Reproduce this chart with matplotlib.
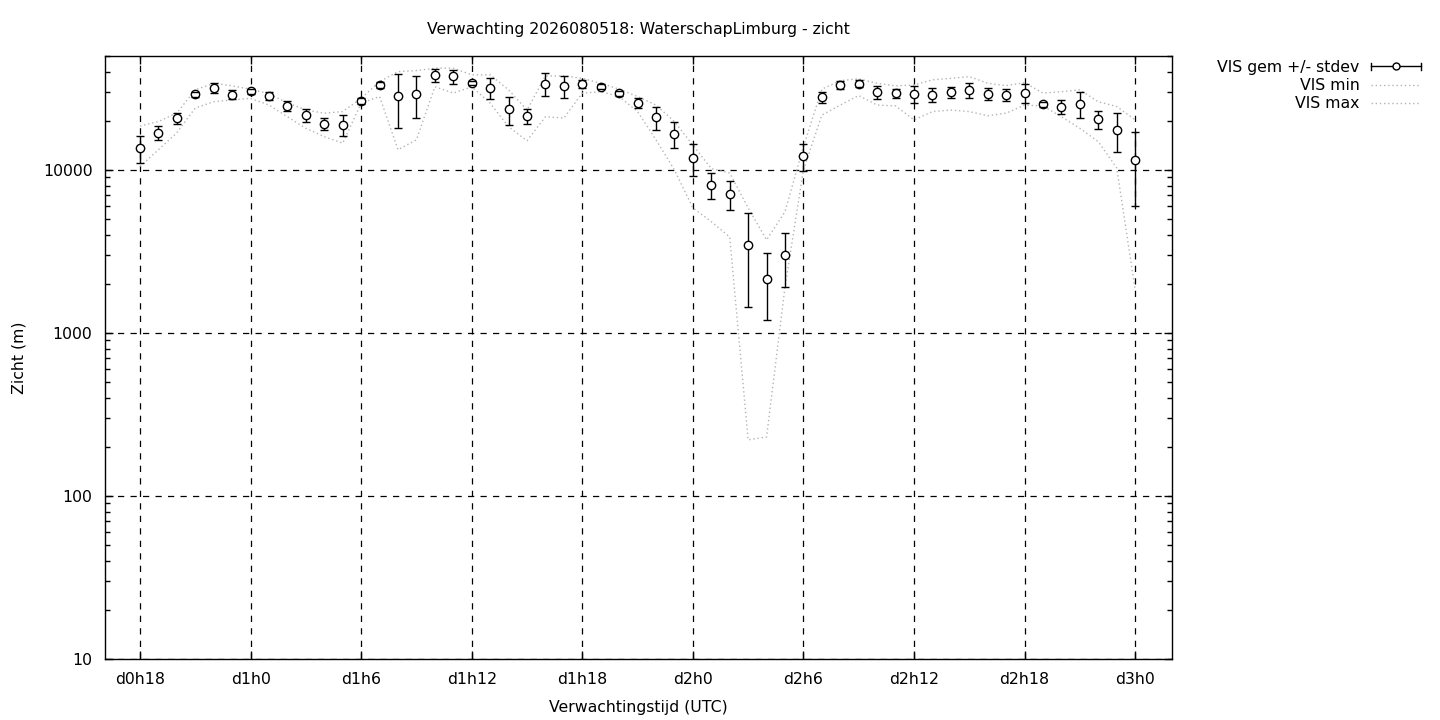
import numpy as np
import matplotlib
matplotlib.use("Agg")
import matplotlib.pyplot as plt
from matplotlib.lines import Line2D
from matplotlib.legend_handler import HandlerBase
from matplotlib.ticker import FixedLocator, FuncFormatter, LogLocator, NullFormatter

# forecast hours (relative to d0h0), one value per hour
hours = list(range(18, 73))

vis_mean = [13600, 16900, 20700, 29200, 32000, 29000, 30400, 28400, 24700, 21600,
            19200, 18900, 26500, 33000, 28400, 29200, 38000, 37600, 34000, 31900,
            23500, 21400, 33900, 32700, 33700, 32400, 29500, 25800, 21100, 16600,
            11800, 8100, 7100, 3450, 2140, 3000, 12200, 27900, 33300, 33800,
            29900, 29500, 29400, 28900, 29900, 30900, 29300, 28900, 29800, 25300,
            24400, 25400, 20400, 17600, 11500]

vis_std = [2600, 1600, 1600, 1000, 2200, 1800, 1100, 1500, 1600, 2000,
           1600, 2700, 1100, 1400, 10200, 8500, 3400, 3700, 900, 4700,
           4700, 2200, 5400, 5100, 2000, 1100, 1000, 1900, 3400, 3000,
           2600, 1500, 1450, 2000, 940, 1090, 2300, 2200, 2000, 1700,
           2600, 1750, 3500, 2700, 2200, 3100, 2400, 2500, 4000, 900,
           2400, 4700, 2600, 4700, 5500]

vis_min = [10500, 13300, 16900, 24000, 26200, 26900, 27500, 25000, 21200, 18000,
           16000, 14600, 25700, 28200, 13300, 15300, 32400, 29600, 32400, 25700,
           18400, 15100, 21200, 20800, 29600, 30200, 28200, 22800, 15300, 10000,
           5850, 4820, 3880, 221, 230, 1915, 10000, 21700, 25000, 28600,
           25000, 24700, 20300, 22800, 23300, 22800, 21500, 22300, 25000, 24700,
           21200, 18000, 14900, 10300, 1840]

vis_max = [18600, 19800, 22400, 31000, 34000, 32800, 31300, 29300, 25800, 23300,
           22300, 22800, 27500, 34800, 40100, 40700, 42100, 42100, 38300, 38300,
           31000, 23300, 37700, 37700, 36500, 34000, 31300, 28200, 25000, 19800,
           14200, 10200, 9580, 5850, 3720, 5550, 13900, 31300, 35300, 36200,
           34000, 32800, 33200, 35700, 36500, 37400, 34000, 32900, 34300, 29600,
           30200, 31000, 26200, 24500, 20300]

tick_hours = [18, 24, 30, 36, 42, 48, 54, 60, 66, 72]
tick_labels = ["d%dh%d" % (h // 24, h % 24) for h in tick_hours]


class HorizErrHandler(HandlerBase):
    # gnuplot style key sample: horizontal bar with end caps and a circle
    def create_artists(self, legend, orig_handle, xdescent, ydescent,
                       width, height, fontsize, trans):
        y = (height - ydescent) / 2
        x0, x1 = -xdescent, width - xdescent
        cap = height * 0.35
        parts = [
            Line2D([x0, x1], [y, y], color="black", lw=1),
            Line2D([x0, x0], [y - cap, y + cap], color="black", lw=1),
            Line2D([x1, x1], [y - cap, y + cap], color="black", lw=1),
            Line2D([(x0 + x1) / 2], [y], marker="o", ms=5, mfc="white",
                   mec="black", mew=1, ls="none"),
        ]
        for p in parts:
            p.set_transform(trans)
        return parts


plt.rcParams["font.family"] = ["DejaVu Sans"]
fig = plt.figure(figsize=(14.4, 7.2), dpi=100)
ax = fig.add_axes([105 / 1440, 1 - 659 / 720, (1172 - 105) / 1440, (659 - 56) / 720])

dots = dict(color="#b4b4b4", lw=1, ls=(0, (1, 2)), zorder=2)
ln_min, = ax.plot(hours, vis_min, label="VIS min", **dots)
ln_max, = ax.plot(hours, vis_max, label="VIS max", **dots)
eb = ax.errorbar(hours, vis_mean, yerr=vis_std, fmt="o", color="black",
                 ms=6, mfc="white", mec="black", mew=1, elinewidth=1,
                 capsize=2.6, capthick=1, zorder=4, label="VIS gem +/- stdev")
# caps on top of the open circles, like gnuplot does
eb[0].set_zorder(5)
for cap in eb[1]:
    cap.set_zorder(6)

ax.set_yscale("log")
ax.set_ylim(10, 50000)
ax.set_xlim(16.1, 74.0)

ax.xaxis.set_major_locator(FixedLocator(tick_hours))
ax.set_xticklabels(tick_labels)
ax.yaxis.set_major_locator(FixedLocator([10, 100, 1000, 10000]))
ax.yaxis.set_major_formatter(FuncFormatter(lambda v, p: "%d" % v))
ax.yaxis.set_minor_locator(LogLocator(base=10, subs=np.arange(2, 10), numticks=20))
ax.yaxis.set_minor_formatter(NullFormatter())

ax.tick_params(which="both", direction="in", top=True, right=True, labelsize=11.3)
ax.tick_params(which="major", length=6, width=1, pad=9)
ax.tick_params(which="minor", length=3.5, width=1)
ax.tick_params(axis="x", which="minor", bottom=False, top=False)

ax.grid(True, which="major", color="black", lw=0.9, ls=(0, (5, 5)))
for s in ax.spines.values():
    s.set_linewidth(1)

ax.set_title("Verwachting 2026080518: WaterschapLimburg - zicht", fontsize=11.3, pad=16)
ax.set_xlabel("Verwachtingstijd (UTC)", fontsize=11.3, labelpad=9.5)
ax.set_ylabel("Zicht (m)", fontsize=11.3, labelpad=12)

fig.legend([eb, ln_min, ln_max], ["VIS gem +/- stdev", "VIS min", "VIS max"],
           handler_map={eb: HorizErrHandler()}, loc="upper right",
           bbox_to_anchor=(1432 / 1440, 1 - 49 / 720), frameon=False,
           markerfirst=False, fontsize=11.3, handlelength=3.2,
           handletextpad=0.7, labelspacing=0.2, borderpad=0.2)

fig.savefig("out.png", dpi=100)
